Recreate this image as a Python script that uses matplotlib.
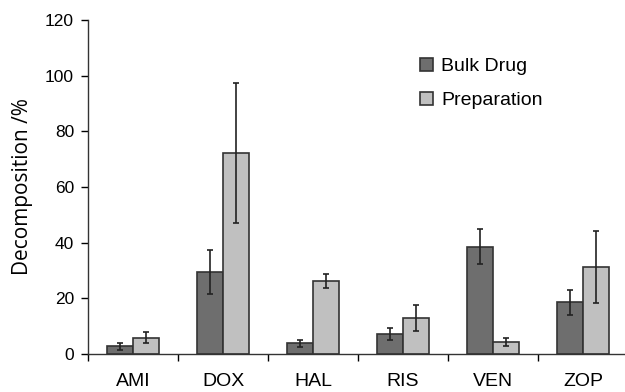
import numpy as np
import matplotlib.pyplot as plt

plt.rcParams['font.family'] = ['Liberation Sans', 'DejaVu Sans']

drugs = ['AMI', 'DOX', 'HAL', 'RIS', 'VEN', 'ZOP']
bulk = [2.7, 29.4, 3.8, 7.2, 38.5, 18.6]
bulk_err = [1.4, 8.0, 1.4, 2.2, 6.3, 4.5]
prep = [5.8, 72.3, 26.2, 12.9, 4.2, 31.3]
prep_err = [2.0, 25.2, 2.5, 4.6, 1.4, 13.0]

fig = plt.figure(figsize=(6.25, 3.92), dpi=100)
ax = fig.add_axes([88/625, 1-354/392, 540/625, 334/392])

x = np.arange(len(drugs))
w = 0.29
ek = dict(ecolor='#222222', elinewidth=1.2, capsize=2.3, capthick=1.2)
ax.bar(x - w/2, bulk, w, yerr=bulk_err, color='#6e6e6e', edgecolor='#333333',
       linewidth=1.2, label='Bulk Drug', error_kw=ek)
ax.bar(x + w/2, prep, w, yerr=prep_err, color='#c0c0c0', edgecolor='#333333',
       linewidth=1.2, label='Preparation', error_kw=ek)

ax.set_xlim(-0.5, len(drugs) - 0.5)
ax.set_ylim(0, 120)
ax.set_yticks(range(0, 121, 20))
ax.set_xticks(x)
ax.set_xticklabels(drugs, fontsize=14)
ax.set_xticks(np.arange(len(drugs)) - 0.5, minor=True)
ax.tick_params(axis='x', which='major', length=0, pad=14)
ax.tick_params(axis='x', which='minor', length=5, width=1, direction='out')
ax.tick_params(axis='y', labelsize=12.5, length=5, width=1, direction='out', pad=5)
ax.set_ylabel('Decomposition /%', fontsize=15, family=['Open Sans', 'DejaVu Sans'],
              labelpad=9)

for s in ['top', 'right']:
    ax.spines[s].set_visible(False)
for s in ['left', 'bottom']:
    ax.spines[s].set_linewidth(1)
    ax.spines[s].set_color('#333333')

ax.legend(loc='upper left', bbox_to_anchor=(0.597, 0.915), frameon=False, borderpad=0,
          fontsize=14, handlelength=0.65, handleheight=0.65, handletextpad=0.45,
          labelspacing=0.85)

fig.savefig('out.png', dpi=100)
